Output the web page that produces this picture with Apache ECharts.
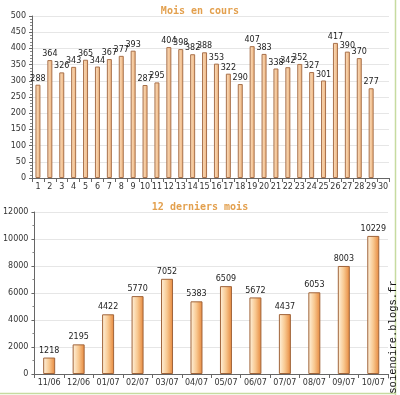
<!DOCTYPE html>
<html><head><meta charset="utf-8">
<script src="https://cdn.jsdelivr.net/npm/echarts@6/dist/echarts.min.js"></script>
<style>html,body{margin:0;padding:0;background:#fff}#c{width:400px;height:395px}</style>
</head><body><div id="c"></div>
<script>
const dayCategories = ['1','2','3','4','5','6','7','8','9','10','11','12','13','14','15','16','17','18','19','20','21','22','23','24','25','26','27','28','29','30'];
const dayValues = [288,364,326,343,365,344,367,377,393,287,295,404,398,382,388,353,322,290,407,383,338,342,352,327,301,417,390,370,277,null];
const monthCategories = ['11/06','12/06','01/07','02/07','03/07','04/07','05/07','06/07','07/07','08/07','09/07','10/07'];
const monthValues = [1218,2195,4422,5770,7052,5383,6509,5672,4437,6053,8003,10229];
const titleTop = 'Mois en cours';
const titleBottom = '12 derniers mois';
const watermark = 'soienoire.blogs.fr';

const chart = echarts.init(document.getElementById('c'));
const axisFont = {fontFamily:'DejaVu Sans', fontSize:8, color:'#333'};
const titleStyle = {fontFamily:'DejaVu Sans Mono', fontSize:10, fontWeight:'bold', color:'#e3a04e'};
const yAxisCommon = {
  axisLine:{show:true, lineStyle:{color:'#666'}},
  axisTick:{show:true, length:3, lineStyle:{color:'#666'}},
  splitLine:{show:true, lineStyle:{color:'#e6e6e6'}},
  axisLabel:Object.assign({margin:6, formatter:function(v){return String(v);}}, axisFont)
};
const xAxisCommon = {
  type:'category', boundaryGap:true,
  axisLine:{lineStyle:{color:'#666'}},
  axisTick:{show:true, length:4, interval:0, lineStyle:{color:'#666'}},
  axisLabel:Object.assign({margin:5, interval:0}, axisFont)
};
chart.setOption({
  animation:false,
  backgroundColor:'#fff',
  title:[
    {text:titleTop, left:'center', top:1, textStyle:titleStyle},
    {text:titleBottom, left:'center', top:197, textStyle:titleStyle}
  ],
  grid:[
    {left:32, top:16, width:357, height:162},
    {left:32, top:212, width:356, height:162}
  ],
  xAxis:[
    Object.assign({gridIndex:0, data:dayCategories}, xAxisCommon),
    Object.assign({gridIndex:1, data:monthCategories}, xAxisCommon)
  ],
  yAxis:[
    Object.assign({gridIndex:0, type:'value', min:0, max:500, interval:50}, yAxisCommon, {minorTick:{show:true, splitNumber:5, length:2, lineStyle:{color:'#888'}}}),
    Object.assign({gridIndex:1, type:'value', min:0, max:12000, interval:2000}, yAxisCommon, {minorTick:{show:true, splitNumber:2, length:2, lineStyle:{color:'#888'}}})
  ],
  series:[
    {type:'bar', xAxisIndex:0, yAxisIndex:0, data:dayValues, barWidth:5,
      itemStyle:{color:new echarts.graphic.LinearGradient(0,0,1,0,[{offset:0,color:'#fbe0c2'},{offset:1,color:'#eeb27a'}]), borderColor:'#a8704a', borderWidth:1},
      label:{show:true, position:'top', distance:2, fontFamily:'DejaVu Sans', fontSize:8, color:'#222'}},
    {type:'bar', xAxisIndex:1, yAxisIndex:1, data:monthValues, barWidth:12,
      itemStyle:{color:new echarts.graphic.LinearGradient(0,0,1,0,[{offset:0,color:'#fff4e0'},{offset:0.5,color:'#f8c890'},{offset:1,color:'#e6863a'}]), borderColor:'#a0643a', borderWidth:1},
      label:{show:true, position:'top', distance:3, fontFamily:'DejaVu Sans', fontSize:8, color:'#222'}}
  ],
  graphic:[
    {type:'line', shape:{x1:395.5, y1:0, x2:395.5, y2:395}, style:{stroke:'#c6dba0', lineWidth:1.5}},
    {type:'line', shape:{x1:0, y1:393.5, x2:396, y2:393.5}, style:{stroke:'#c6dba0', lineWidth:1.5}},
    {type:'text', x:393, y:337, rotation:Math.PI/2, style:{text:watermark, fontFamily:'Liberation Mono', fontSize:10.5, fill:'#111', align:'center', verticalAlign:'middle'}}
  ]
});
</script></body></html>
